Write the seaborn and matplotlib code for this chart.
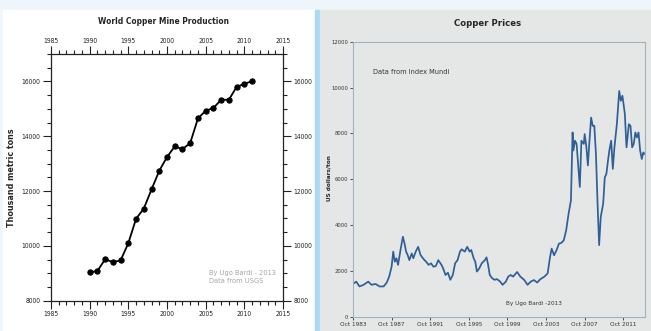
import pandas as pd
import matplotlib
matplotlib.use('Agg')
import matplotlib.pyplot as plt
from matplotlib.ticker import MultipleLocator
from matplotlib.patches import Rectangle
import seaborn as sns

# World copper mine production, thousand metric tons (USGS)
years = [1990, 1991, 1992, 1993, 1994, 1995, 1996, 1997, 1998, 1999, 2000,
         2001, 2002, 2003, 2004, 2005, 2006, 2007, 2008, 2009, 2010, 2011]
production = [9030, 9085, 9510, 9410, 9470, 10100, 10990, 11360, 12060, 12740, 13240,
              13630, 13530, 13750, 14650, 14930, 15030, 15330, 15330, 15800, 15910, 16010]

# Copper price, US dollars/ton (Index Mundi)
price_dates = ['1983-10', '1984-02', '1984-06', '1984-11', '1985-05', '1985-09', '1986-02', '1986-07',
               '1986-12', '1987-04', '1987-07', '1987-10', '1987-12', '1988-02', '1988-04', '1988-06',
               '1988-09', '1988-12', '1989-02', '1989-04', '1989-06', '1989-08', '1989-11', '1990-01',
               '1990-04', '1990-07', '1990-10', '1991-02', '1991-05', '1991-08', '1991-11', '1992-02',
               '1992-05', '1992-08', '1992-12', '1993-02', '1993-05', '1993-08', '1993-11', '1994-02',
               '1994-05', '1994-08', '1994-11', '1995-01', '1995-05', '1995-08', '1995-11', '1996-01',
               '1996-04', '1996-06', '1996-08', '1996-11', '1997-02', '1997-06', '1997-08', '1997-10',
               '1997-12', '1998-03', '1998-06', '1998-09', '1999-01', '1999-04', '1999-08', '1999-11',
               '2000-02', '2000-05', '2000-10', '2001-02', '2001-07', '2001-11', '2002-03', '2002-07',
               '2002-11', '2003-03', '2003-08', '2003-12', '2004-03', '2004-05', '2004-08', '2004-11',
               '2005-02', '2005-05', '2005-08', '2005-11', '2006-02', '2006-05', '2006-07', '2006-08',
               '2006-10', '2006-12', '2007-04', '2007-06', '2007-09', '2007-10', '2007-12', '2008-02',
               '2008-04', '2008-06', '2008-08', '2008-10', '2008-12', '2009-02', '2009-04', '2009-06',
               '2009-09', '2009-11', '2010-01', '2010-03', '2010-05', '2010-07', '2010-09', '2010-11',
               '2011-02', '2011-05', '2011-07', '2011-09', '2011-12', '2012-02', '2012-05', '2012-07',
               '2012-09', '2012-11', '2013-01', '2013-03', '2013-05', '2013-07', '2013-09', '2013-11',
               '2013-12']
prices = [1430, 1530, 1320, 1390, 1530, 1390, 1430, 1320,
          1320, 1490, 1750, 2180, 2840, 2400, 2550, 2260,
          2910, 3490, 3200, 2840, 2690, 2470, 2760, 2550,
          2840, 3050, 2690, 2500, 2400, 2260, 2330, 2180,
          2210, 2470, 2260, 2110, 1820, 1920, 1610, 1820,
          2330, 2470, 2840, 2940, 2840, 3050, 2840, 2910,
          2550, 2400, 1970, 2110, 2330, 2470, 2590, 2260,
          1820, 1680, 1610, 1640, 1530, 1390, 1530, 1750,
          1820, 1750, 1950, 1750, 1600, 1390, 1530, 1600,
          1490, 1640, 1750, 1890, 2610, 2970, 2680, 2900,
          3190, 3220, 3330, 3770, 4500, 5080, 8040, 7250,
          7680, 7540, 5660, 7680, 7540, 7970, 7460, 6600,
          7680, 8690, 8330, 8330, 7110, 4930, 3125, 4350,
          4930, 6080, 6230, 6800, 7320, 7680, 6450, 7390,
          8400, 9850, 9420, 9640, 8840, 7390, 8400, 8330,
          7390, 7540, 8040, 7820, 8040, 7250, 6880, 7170,
          7100]
price_tick_years = [1983, 1987, 1991, 1995, 1999, 2003, 2007, 2011]

sns.set_style('ticks')
plt.rcParams['font.family'] = ['DejaVu Sans']
plt.rcParams['font.stretch'] = 'condensed'

W, H = 651, 331
fig = plt.figure(figsize=(6.51, 3.31), dpi=100, facecolor='#eef6fc')

def fx(px):
    return px / W

def fy(py):
    return 1 - py / H

# panel backgrounds (behind the axes)
fig.patches.extend([
    Rectangle((fx(3), 0), fx(312), fy(10), transform=fig.transFigure, figure=fig,
              color='white', zorder=-2),
    Rectangle((fx(315), 0), fx(5), fy(10), transform=fig.transFigure, figure=fig,
              color='#a9d9f4', zorder=-2),
    Rectangle((fx(320), 0), fx(331), fy(10), transform=fig.transFigure, figure=fig,
              color='#e5e7e7', zorder=-2),
])

# ---- left: mine production
ax1 = fig.add_axes([fx(51), fy(300.7), fx(232), 246.7 / H])
ax1.set_facecolor('white')
sns.lineplot(x=years, y=production, marker='o', color='black', lw=1.3,
             markersize=3.8, markeredgecolor='black', ax=ax1)
ax1.set_xlim(1985, 2015)
ax1.set_ylim(8000, 17000)
ax1.xaxis.set_major_locator(MultipleLocator(5))
ax1.xaxis.set_minor_locator(MultipleLocator(1))
ax1.yaxis.set_major_locator(MultipleLocator(2000))
ax1.yaxis.set_minor_locator(MultipleLocator(500))
ax1.tick_params(which='both', direction='out', top=True, right=True,
                labeltop=True, labelright=True, labelsize=4.8, width=0.8,
                colors='#222222', pad=2)
ax1.tick_params(which='major', length=5.5)
ax1.tick_params(which='minor', length=3)
for s in ax1.spines.values():
    s.set_visible(True)
    s.set_linewidth(0.9)
    s.set_color('#222222')
ax1.set_xlabel('')
ax1.set_ylabel('')

fig.text(fx(163), fy(21), 'World Copper Mine Production', ha='center', va='center',
         fontsize=6, fontweight='bold')
fig.text(fx(12), fy(178), 'Thousand metric tons', rotation=90, ha='center', va='center',
         fontsize=5.8, fontweight='bold', fontstretch='normal')
fig.text(fx(209), fy(277), 'By Ugo Bardi - 2013\nData from USGS', ha='left', va='center',
         fontsize=5.3, color='#a5a5a5', linespacing=1.35)

# ---- right: copper prices
ax2 = fig.add_axes([fx(353), fy(316.7), fx(292), 275 / H])
ax2.set_facecolor('none')
df = pd.DataFrame({'date': pd.to_datetime(price_dates), 'price': prices})
sns.lineplot(data=df, x='date', y='price', color='#2f5f97', lw=1.25, ax=ax2)
ax2.set_xlim(pd.Timestamp('1983-10-01'), pd.Timestamp('2014-01-01'))
ax2.set_ylim(0, 12000)
ax2.set_xticks([pd.Timestamp(f'{y}-10-01') for y in price_tick_years])
ax2.set_xticklabels([f'Oct {y}' for y in price_tick_years])
ax2.yaxis.set_major_locator(MultipleLocator(2000))
ax2.tick_params(axis='x', labelsize=4.6, length=2, width=0.6, colors='#333333', pad=1.5)
ax2.tick_params(axis='y', labelsize=4.2, length=2, width=0.6, colors='#333333', pad=1.5)
for s in ax2.spines.values():
    s.set_visible(True)
    s.set_linewidth(0.8)
    s.set_color('#a3b1bd')
ax2.set_xlabel('')
ax2.set_ylabel('')

fig.text(fx(488), fy(24), 'Copper Prices', ha='center', va='center',
         fontsize=6.8, fontweight='bold')
fig.text(fx(329), fy(178), 'US dollars/ton', rotation=90, ha='center', va='center',
         fontsize=4.6, fontweight='bold')
fig.text(fx(373), fy(72), 'Data from Index Mundi', ha='left', va='center',
         fontsize=5.3, color='#333333')
fig.text(fx(534), fy(304), 'By Ugo Bardi -2013', ha='center', va='center',
         fontsize=4.6, color='#333333')

fig.savefig('out.png', dpi=100)
